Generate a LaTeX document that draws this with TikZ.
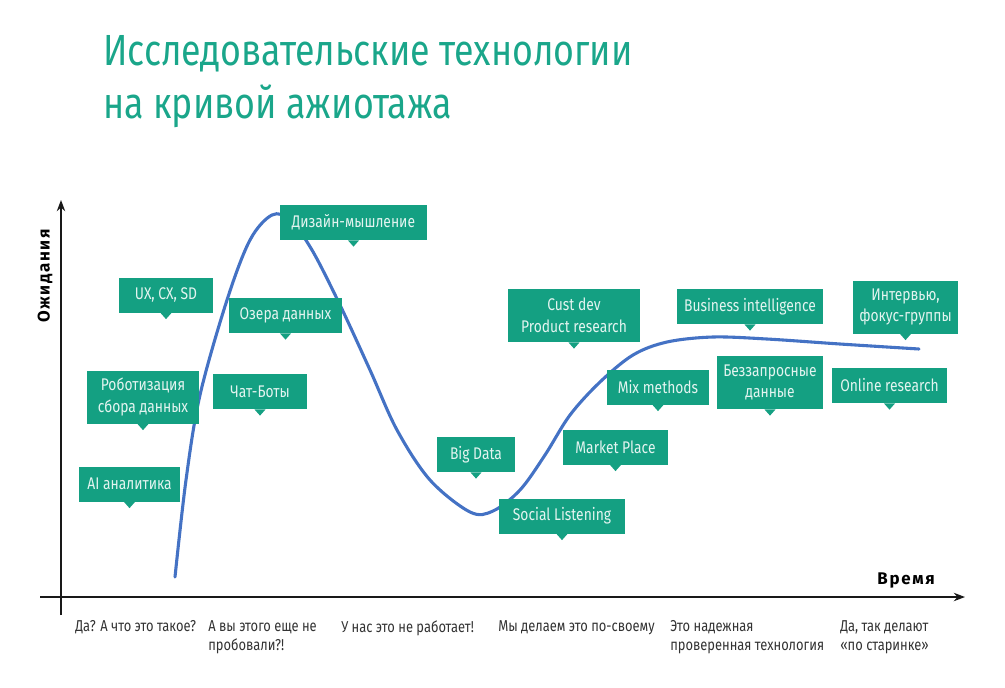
\documentclass[tikz,border=0pt]{standalone}
\usepackage{fontspec}
\setmainfont{Fira Sans}[FakeStretch=0.82]
\newfontfamily\axisfont{Fira Sans}[LetterSpace=10]
\usetikzlibrary{arrows.meta}
\definecolor{hypegreen}{RGB}{20,160,130}
\definecolor{titlegreen}{RGB}{26,166,138}
\definecolor{hypeblue}{RGB}{68,114,196}
\tikzset{
    tag/.style={fill=hypegreen, text=white!88!hypegreen, align=center,
        minimum height=0.875cm, inner sep=0pt,
        font=\fontsize{12}{15.5}\selectfont},
    tag width/.style={minimum width=#1*0.025cm}, % ширина в пикселях
    tall/.style={minimum height=1.325cm},
    stage/.style={anchor=north west, align=left, text=black!80, inner sep=0pt,
        font=\fontsize{11.2}{13.5}\selectfont},
}

\begin{document}
\begin{tikzpicture}[x=0.025cm, y=-0.025cm,
        axis/.style={line width=1pt, black!90, -{Stealth[length=8pt, width=6pt]}},
        hype/.style={hypeblue, line width=2.2pt, line cap=round},
    ]
    \useasboundingbox (0,0) rectangle (1005,687);
    % заголовок
    \node[anchor=base west, align=left, inner sep=0pt, text=titlegreen,
        font=\fontsize{31}{37.6}\selectfont] (title) at (103,118)
        {Исследовательские технологии\\на кривой ажиотажа};
    % оси
    \coordinate (xstart) at (40,597);
    \coordinate (xend) at (965,597);
    \coordinate (ystart) at (61,615);
    \coordinate (yend) at (61,200);
    \draw[axis] (xstart) -- (xend);
    \draw[axis] (ystart) -- (yend);
    \node[rotate=90, inner sep=0pt, font=\axisfont\bfseries\fontsize{12}{14}\selectfont] (ylabel) at (45,276) {Ожидания};
    \node[anchor=base east, inner sep=0pt, font=\axisfont\bfseries\fontsize{12}{14}\selectfont] (xlabel) at (935,584) {Время};
    % кривая
    \draw[hype] plot[smooth, tension=0.55] coordinates {(175,577) (186,480) (200,395) (227,300) (250,240) (272,215) (290,220) (312,250) (340,305) (370,370) (397,430) (430,480) (470,512) (493,511) (520,490) (545,455) (570,415) (600,382) (633,355) (667,342) (713,337) (767,339) (840,344) (919,349)};
    % карточки
    \node[tag, tag width=147] (dm) at (353.5,222.5) {Дизайн-мышление};
    \node[tag, tag width=94] (ux) at (166,295) {UX, CX, SD};
    \node[tag, tag width=113] (lake) at (285.5,315.5) {Озера данных};
    \node[tag, tag width=112, tall] (robo) at (143,397) {Роботизация\\сбора данных};
    \node[tag, tag width=94] (chat) at (260,391.5) {Чат-Боты};
    \node[tag, tag width=101] (ai) at (129.5,484) {AI аналитика};
    \node[tag, tag width=78] (bigdata) at (476,454.5) {Big Data};
    \node[tag, tag width=126] (social) at (562,516) {Social Listening};
    \node[tag, tag width=105] (market) at (615.5,447) {Market Place};
    \node[tag, tag width=132, tall] (custdev) at (574,315.5) {Cust dev\\Product research};
    \node[tag, tag width=102] (mix) at (658,387) {Mix methods};
    \node[tag, tag width=146] (bi) at (750,306.5) {Business intelligence};
    \node[tag, tag width=106, tall] (nonreq) at (770,382.5) {Беззапросные\\данные};
    \node[tag, tag width=105, tall] (interview) at (905.5,307) {Интервью,\\фокус-группы};
    \node[tag, tag width=115] (online) at (889.5,385.5) {Online research};
    \foreach \n in {dm,ux,lake,robo,chat,ai,bigdata,social,market,custdev,mix,bi,nonreq,interview,online}
        \fill[hypegreen] ([xshift=-4pt]\n.south) -- ([yshift=-4.5pt]\n.south) -- ([xshift=4pt]\n.south) -- cycle;
    % стадии
    \node[stage] (s1) at (75,620) {Да? А что это такое?};
    \node[stage] (s2) at (208,620) {А вы этого еще не\\пробовали?!};
    \node[stage] (s3) at (341,620) {У нас это не работает!};
    \node[stage] (s4) at (498,620) {Мы делаем это по-своему};
    \node[stage] (s5) at (670,620) {Это надежная\\проверенная технология};
    \node[stage] (s6) at (840,620) {Да, так делают\\«по старинке»};
\end{tikzpicture}
\end{document}
